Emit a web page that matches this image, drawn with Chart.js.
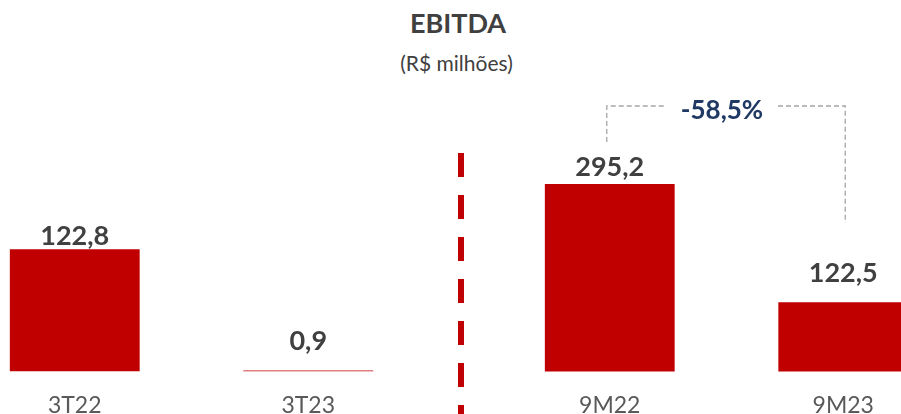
<!DOCTYPE html>
<html>
<head>
<meta charset="utf-8">
<script src="https://cdn.jsdelivr.net/npm/chart.js@4.4.0/dist/chart.umd.min.js"></script>
<style>
    html, body { margin: 0; padding: 0; background: #fff; }
    body { width: 901px; height: 414px; position: relative; overflow: hidden; font-family: Lato, sans-serif; }
    .title { position: absolute; left: 0; width: 916px; top: 6px; text-align: center; font-size: 27px; font-weight: bold; color: #404040; }
    .subtitle { position: absolute; left: 0; width: 913px; top: 50px; text-align: center; font-size: 21px; color: #404040; }
    .box { position: absolute; top: 0; width: 467px; height: 439px; }
    #leftBox { left: -42px; }
    #rightBox { left: 493px; }
    #divider { position: absolute; left: 458px; top: 153px; width: 6px; height: 270px;
        background: repeating-linear-gradient(to bottom, #c00000 0 24px, transparent 24px 42px); }
</style>
</head>
<body>
<div class="title">EBITDA</div>
<div class="subtitle">(R$ milhões)</div>
<div id="divider"></div>
<div class="box" id="leftBox"><canvas id="leftChart"></canvas></div>
<div class="box" id="rightBox"><canvas id="rightChart"></canvas></div>

<script>
// Chart data
const quarterLabels = ['3T22', '3T23'];
const quarterValues = [122.8, 0.9];
const ytdLabels = ['9M22', '9M23'];
const ytdValues = [295.2, 122.5];
const changeLabel = '-58,5%';

const barColor = '#c00000';
const textColor = '#404040';

// Value labels above the bars
const valueLabels = {
    id: 'valueLabels',
    afterDatasetsDraw(chart, args, opts) {
        const ctx = chart.ctx;
        const meta = chart.getDatasetMeta(0);
        ctx.save();
        ctx.font = 'bold 27px Lato';
        ctx.fillStyle = textColor;
        ctx.textAlign = 'center';
        ctx.textBaseline = 'alphabetic';
        meta.data.forEach((bar, i) => {
            const v = chart.data.datasets[0].data[i];
            const txt = v.toFixed(1).replace('.', ',');
            ctx.fillText(txt, bar.x, bar.y - opts.gaps[i]);
        });
        ctx.restore();
    }
};

// Dashed bracket with the variation
const changeBracket = {
    id: 'changeBracket',
    afterDatasetsDraw(chart, args, opts) {
        if (!opts.show) return;
        const ctx = chart.ctx;
        const x = chart.scales.x;
        const x1 = x.getPixelForValue(0) - 3;
        const x2 = x.getPixelForValue(1) + 2;
        const top = 106;
        const mid = (x1 + x2) / 2 - 4;
        ctx.save();
        ctx.strokeStyle = '#a6a6a6';
        ctx.lineWidth = 1.3;
        ctx.setLineDash([5, 3]);
        ctx.beginPath();
        ctx.moveTo(x1, 142);
        ctx.lineTo(x1, top);
        ctx.lineTo(mid - 56, top);
        ctx.moveTo(mid + 56, top);
        ctx.lineTo(x2, top);
        ctx.lineTo(x2, 223);
        ctx.stroke();
        ctx.setLineDash([]);
        ctx.font = 'bold 26px Lato';
        ctx.fillStyle = '#1f3864';
        ctx.textAlign = 'center';
        ctx.textBaseline = 'alphabetic';
        ctx.fillText(opts.text, mid, 119);
        ctx.restore();
    }
};

function makeBarChart(id, labels, values, yMin, yMax, gaps, bracket) {
    const ctx = document.getElementById(id);
    return new Chart(ctx, {
        type: 'bar',
        data: {
            labels: labels,
            datasets: [{
                data: values,
                backgroundColor: barColor,
                borderWidth: 0,
                barPercentage: 0.556,
                categoryPercentage: 1
            }]
        },
        options: {
            responsive: true,
            maintainAspectRatio: false,
            animation: false,
            layout: { padding: { top: 100, left: 0, right: 0, bottom: 0 } },
            plugins: {
                legend: { display: false },
                tooltip: { enabled: false },
                valueLabels: { gaps: gaps },
                changeBracket: { show: bracket, text: changeLabel }
            },
            scales: {
                x: {
                    grid: { display: false, drawTicks: false },
                    border: { display: false },
                    ticks: { padding: 20, color: '#595959', font: { family: 'Lato', size: 23 } }
                },
                y: {
                    display: false,
                    min: yMin,
                    max: yMax
                }
            }
        },
        plugins: [valueLabels, changeBracket]
    });
}

makeBarChart('leftChart', quarterLabels, quarterValues, 0, 272.8, [4, 21], false);
makeBarChart('rightChart', ytdLabels, ytdValues, 21.5, 418.1, [8, 20], true);
</script>
</body>
</html>
